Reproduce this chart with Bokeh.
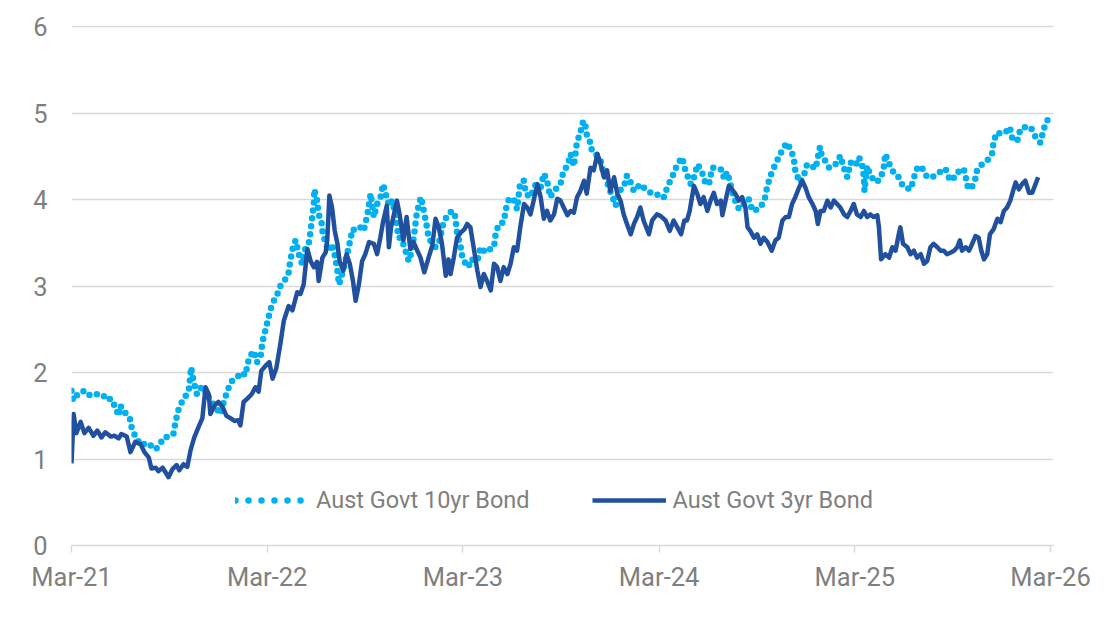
import pandas as pd
from bokeh.plotting import figure
from bokeh.models import Range1d, FixedTicker, Legend, LegendItem, ColumnDataSource
from bokeh.embed import file_html
from bokeh.resources import INLINE

START = "2021-03-01"

# Aust Govt 3yr Bond yield (%), x = days since START
days_3yr = [0, 4, 9, 17, 24, 32, 41, 48, 56, 63, 73, 80, 88, 93, 103, 110, 119, 129, 136, 144,
            149, 157, 162, 170, 175, 181, 188, 196, 201, 209, 216, 222, 229, 239, 244, 250, 256, 259, 267, 274,
            282, 289, 297, 304, 311, 315, 321, 328, 336, 343, 349, 354, 362, 369, 375, 382, 390, 396, 405, 412,
            421, 427, 433, 440, 446, 452, 458, 461, 468, 474, 477, 481, 486, 491, 496, 500, 507, 513, 519, 525,
            530, 536, 542, 548, 555, 564, 570, 576, 581, 588, 592, 596, 601, 607, 612, 619, 625, 632, 638, 645,
            651, 658, 666, 673, 679, 685, 691, 698, 703, 707, 713, 719, 726, 733, 738, 744, 750, 757, 763, 769,
            775, 782, 788, 794, 800, 806, 813, 819, 825, 831, 837, 844, 850, 856, 862, 869, 875, 881, 887, 893,
            900, 906, 912, 918, 925, 931, 937, 943, 949, 956, 961, 968, 974, 981, 987, 993, 999, 1005, 1012, 1018,
            1024, 1030, 1036, 1043, 1049, 1055, 1061, 1067, 1077, 1083, 1092, 1099, 1108, 1116, 1123, 1130, 1137, 1143, 1148, 1153,
            1161, 1167, 1173, 1179, 1186, 1192, 1198, 1204, 1211, 1214, 1220, 1226, 1232, 1238, 1245, 1251, 1257, 1261, 1266, 1273,
            1279, 1285, 1291, 1298, 1306, 1313, 1319, 1326, 1332, 1338, 1344, 1350, 1357, 1363, 1369, 1375, 1382, 1388, 1392, 1397,
            1403, 1410, 1416, 1422, 1428, 1434, 1441, 1447, 1453, 1459, 1465, 1472, 1478, 1484, 1490, 1496, 1503, 1506, 1510, 1518,
            1525, 1531, 1537, 1543, 1546, 1551, 1559, 1565, 1571, 1577, 1584, 1590, 1596, 1602, 1608, 1615, 1621, 1627, 1633, 1640,
            1646, 1652, 1657, 1661, 1668, 1674, 1680, 1686, 1692, 1697, 1702, 1708, 1713, 1720, 1727, 1733, 1739, 1745, 1751, 1758,
            1761, 1767, 1773, 1779, 1786, 1792, 1798, 1803]
yield_3yr = [0.95, 1.52, 1.30, 1.43, 1.30, 1.36, 1.27, 1.33, 1.25, 1.31, 1.26, 1.27, 1.24, 1.29, 1.26, 1.08, 1.20, 1.17, 1.08, 1.02,
             0.89, 0.90, 0.86, 0.90, 0.85, 0.79, 0.88, 0.93, 0.87, 0.94, 0.91, 1.10, 1.25, 1.40, 1.47, 1.83, 1.75, 1.52, 1.62, 1.66,
             1.60, 1.50, 1.47, 1.44, 1.45, 1.39, 1.66, 1.70, 1.75, 1.83, 1.78, 2.02, 2.08, 2.12, 1.93, 2.05, 2.35, 2.60, 2.77, 2.72,
             2.93, 2.91, 3.02, 3.43, 3.29, 3.22, 3.28, 3.06, 3.33, 3.39, 3.53, 4.05, 3.91, 3.64, 3.49, 3.29, 3.18, 3.37, 3.26, 3.06,
             2.83, 3.02, 3.29, 3.37, 3.51, 3.49, 3.37, 3.56, 3.74, 3.93, 3.45, 3.68, 3.82, 3.99, 3.83, 3.53, 3.80, 3.43, 3.51, 3.41,
             3.33, 3.16, 3.33, 3.47, 3.78, 3.68, 3.49, 3.12, 3.31, 3.14, 3.33, 3.56, 3.62, 3.66, 3.72, 3.68, 3.45, 3.18, 2.99, 3.14,
             3.06, 2.95, 3.26, 3.22, 3.06, 3.22, 3.14, 3.26, 3.45, 3.41, 3.68, 3.95, 3.91, 3.83, 3.99, 4.18, 4.03, 3.78, 3.87, 3.76,
             3.83, 4.01, 3.99, 3.91, 3.82, 3.87, 3.85, 4.03, 4.10, 4.22, 4.07, 4.37, 4.34, 4.53, 4.41, 4.26, 4.34, 4.10, 4.26, 4.07,
             3.99, 3.83, 3.72, 3.60, 3.72, 3.80, 3.91, 3.76, 3.60, 3.76, 3.83, 3.81, 3.76, 3.64, 3.76, 3.68, 3.60, 3.76, 3.76, 3.87,
             4.16, 4.07, 3.95, 4.03, 3.87, 3.99, 4.08, 3.95, 3.99, 3.82, 3.99, 4.16, 4.12, 4.07, 3.99, 4.03, 3.91, 3.68, 3.64, 3.56,
             3.60, 3.49, 3.56, 3.51, 3.41, 3.53, 3.56, 3.76, 3.80, 3.80, 3.95, 4.03, 4.14, 4.22, 4.14, 4.03, 3.95, 3.87, 3.72, 3.87,
             3.87, 3.99, 3.91, 3.99, 3.95, 3.91, 3.83, 3.80, 3.87, 3.95, 3.83, 3.80, 3.87, 3.80, 3.83, 3.80, 3.82, 3.68, 3.31, 3.37,
             3.33, 3.45, 3.41, 3.60, 3.68, 3.49, 3.45, 3.37, 3.41, 3.33, 3.37, 3.26, 3.29, 3.45, 3.49, 3.45, 3.41, 3.41, 3.37, 3.39,
             3.41, 3.45, 3.53, 3.41, 3.45, 3.41, 3.49, 3.58, 3.56, 3.41, 3.31, 3.37, 3.60, 3.66, 3.78, 3.74, 3.87, 3.91, 3.99, 4.14,
             4.20, 4.12, 4.18, 4.22, 4.08, 4.08, 4.18, 4.26]

# Aust Govt 10yr Bond yield (%), x = days since START
days_10yr = [0, 3, 14, 26, 35, 45, 57, 67, 73, 82, 88, 91, 98, 104, 110, 113, 119, 129, 141, 151,
             157, 166, 172, 181, 190, 194, 200, 206, 213, 219, 222, 223, 228, 234, 244, 253, 259, 269, 278, 284,
             292, 300, 310, 315, 325, 328, 334, 340, 346, 353, 356, 362, 368, 374, 384, 390, 399, 405, 408, 413,
             418, 424, 430, 436, 443, 446, 449, 452, 453, 458, 461, 466, 468, 474, 480, 486, 492, 496, 499, 503,
             508, 514, 520, 524, 530, 539, 545, 552, 555, 558, 564, 570, 576, 581, 586, 592, 598, 604, 610, 614,
             620, 626, 629, 635, 640, 643, 648, 652, 657, 662, 666, 673, 679, 685, 694, 704, 712, 716, 719, 726,
             729, 735, 741, 744, 757, 763, 772, 781, 788, 791, 797, 806, 811, 816, 825, 831, 837, 844, 847, 856,
             866, 875, 881, 887, 893, 900, 906, 912, 918, 925, 931, 937, 943, 949, 952, 957, 962, 968, 971, 981,
             987, 990, 996, 1002, 1008, 1015, 1021, 1030, 1036, 1043, 1049, 1055, 1061, 1071, 1080, 1089, 1099, 1105, 1111, 1117,
             1123, 1130, 1139, 1145, 1155, 1161, 1168, 1177, 1183, 1189, 1195, 1204, 1214, 1217, 1223, 1229, 1235, 1245, 1251, 1263,
             1270, 1279, 1285, 1293, 1298, 1304, 1310, 1316, 1322, 1330, 1335, 1341, 1347, 1350, 1358, 1366, 1372, 1381, 1388, 1396,
             1400, 1406, 1413, 1422, 1428, 1434, 1441, 1447, 1453, 1462, 1469, 1475, 1478, 1479, 1484, 1490, 1500, 1509, 1515, 1518,
             1524, 1531, 1537, 1543, 1549, 1555, 1565, 1571, 1574, 1580, 1587, 1596, 1605, 1615, 1624, 1630, 1636, 1643, 1649, 1658,
             1664, 1668, 1671, 1677, 1685, 1689, 1695, 1705, 1711, 1717, 1720, 1727, 1733, 1742, 1750, 1755, 1764, 1770, 1779, 1789,
             1795, 1801, 1807, 1812, 1817, 1825, 1829]
yield_10yr = [1.79, 1.68, 1.77, 1.79, 1.73, 1.75, 1.75, 1.68, 1.70, 1.60, 1.50, 1.62, 1.54, 1.52, 1.45, 1.33, 1.27, 1.16, 1.19, 1.14,
              1.11, 1.18, 1.25, 1.26, 1.29, 1.43, 1.58, 1.66, 1.73, 1.81, 1.98, 2.06, 1.89, 1.75, 1.85, 1.75, 1.68, 1.60, 1.52, 1.66,
              1.81, 1.91, 1.95, 2.00, 1.97, 2.10, 2.20, 2.25, 2.12, 2.20, 2.35, 2.50, 2.65, 2.79, 2.91, 3.01, 3.08, 3.16, 3.29, 3.45,
              3.53, 3.37, 3.26, 3.43, 3.51, 3.64, 3.80, 3.95, 4.12, 3.99, 3.83, 3.76, 3.64, 3.49, 3.41, 3.49, 3.33, 3.18, 3.02, 3.10,
              3.22, 3.37, 3.53, 3.66, 3.64, 3.68, 3.64, 3.83, 3.95, 4.07, 3.80, 3.95, 4.01, 4.18, 4.07, 3.93, 3.99, 3.83, 3.56, 3.56,
              3.47, 3.35, 3.29, 3.41, 3.64, 3.80, 3.95, 4.03, 3.87, 3.72, 3.56, 3.49, 3.45, 3.49, 3.74, 3.85, 3.87, 3.80, 3.62, 3.45,
              3.33, 3.26, 3.22, 3.31, 3.29, 3.45, 3.39, 3.43, 3.45, 3.60, 3.72, 3.74, 3.91, 4.01, 4.01, 3.89, 4.20, 4.22, 4.07, 4.03,
              4.18, 4.14, 4.30, 4.22, 4.03, 4.10, 4.14, 4.18, 4.34, 4.39, 4.53, 4.39, 4.68, 4.76, 4.88, 4.91, 4.72, 4.66, 4.55, 4.51,
              4.45, 4.36, 4.28, 4.14, 4.05, 3.93, 4.10, 4.14, 4.28, 4.20, 4.10, 4.14, 4.18, 4.12, 4.08, 4.05, 4.07, 4.03, 4.14, 4.22,
              4.30, 4.41, 4.49, 4.34, 4.18, 4.26, 4.41, 4.30, 4.18, 4.18, 4.37, 4.37, 4.34, 4.24, 4.32, 4.18, 4.03, 3.89, 3.93, 4.01,
              3.87, 3.89, 3.91, 4.01, 4.16, 4.28, 4.37, 4.45, 4.53, 4.62, 4.66, 4.58, 4.49, 4.34, 4.20, 4.28, 4.41, 4.39, 4.36, 4.61,
              4.49, 4.45, 4.37, 4.39, 4.43, 4.51, 4.36, 4.26, 4.43, 4.39, 4.49, 4.39, 4.26, 4.10, 4.39, 4.28, 4.20, 4.24, 4.37, 4.53,
              4.43, 4.34, 4.28, 4.26, 4.18, 4.14, 4.12, 4.24, 4.32, 4.39, 4.36, 4.26, 4.26, 4.30, 4.34, 4.36, 4.26, 4.22, 4.30, 4.34,
              4.36, 4.26, 4.16, 4.12, 4.22, 4.34, 4.39, 4.45, 4.47, 4.53, 4.68, 4.78, 4.76, 4.78, 4.84, 4.70, 4.68, 4.82, 4.84, 4.84,
              4.76, 4.70, 4.66, 4.78, 4.89, 4.96, 4.98]

series_names = ["Aust Govt 10yr Bond", "Aust Govt 3yr Bond"]
tick_dates = ["2021-03-01", "2022-03-01", "2023-03-01", "2024-03-01", "2025-03-01", "2026-03-01"]
tick_labels = ["Mar-21", "Mar-22", "Mar-23", "Mar-24", "Mar-25", "Mar-26"]
y_ticks = [0, 1, 2, 3, 4, 5, 6]

C10 = "#00B0F0"
C3 = "#21509F"
GRID = "#D9D9D9"
TXT = "#7F7F7F"
FONT = "Roboto"

start = pd.Timestamp(START)
src10 = ColumnDataSource(dict(x=start + pd.to_timedelta(days_10yr, unit="D"), y=yield_10yr))
src3 = ColumnDataSource(dict(x=start + pd.to_timedelta(days_3yr, unit="D"), y=yield_3yr))

x_end = start + pd.Timedelta(days=1831.6)

p = figure(width=1096, height=627, x_axis_type="datetime",
           x_range=Range1d(start, x_end), y_range=Range1d(0, 6.05),
           output_backend="svg", toolbar_location=None,
           min_border_left=71, min_border_right=43, min_border_top=22, min_border_bottom=82)
p.outline_line_color = None
p.background_fill_color = "white"
# off-screen range used only by the legend proxy renderer
p.extra_y_ranges = {"legend_proxy": Range1d(-20, -19)}

r10 = p.line("x", "y", source=src10, line_color=C10, line_width=6.5,
             line_dash="0 8", line_cap="round", line_join="round")
r3 = p.line("x", "y", source=src3, line_color=C3, line_width=4.5, line_join="round")

# legend-only proxy for the dotted line (wider dot spacing, as in the reference legend)
leg10 = p.line("x", "y", source=src10, y_range_name="legend_proxy",
               line_color=C10, line_width=6.5, line_dash="0 13", line_cap="round")

tick_ms = [float(pd.Timestamp(d).timestamp() * 1000) for d in tick_dates]
overrides = {}
for ms, lab in zip(tick_ms, tick_labels):
    overrides[ms] = lab
    overrides[str(int(ms))] = lab

xa = p.xaxis[0]
xa.ticker = FixedTicker(ticks=tick_ms)
xa.major_label_overrides = overrides
xa.axis_line_color = GRID
xa.axis_line_width = 1.5
xa.major_tick_line_color = GRID
xa.major_tick_line_width = 1.5
xa.major_tick_out = 7
xa.major_tick_in = 0
xa.minor_tick_line_color = None
xa.major_label_text_font = FONT
xa.major_label_text_font_size = "25.5px"
xa.major_label_text_color = TXT
xa.major_label_standoff = 9

ya = p.yaxis[0]
ya.ticker = FixedTicker(ticks=y_ticks)
ya.axis_line_color = None
ya.major_tick_line_color = None
ya.minor_tick_line_color = None
ya.major_tick_out = 0
ya.major_tick_in = 0
ya.major_label_text_font = FONT
ya.major_label_text_font_size = "25.5px"
ya.major_label_text_color = TXT
ya.major_label_standoff = 24

p.xgrid.grid_line_color = None
p.ygrid.grid_line_color = GRID
p.ygrid.grid_line_width = 1.5
p.ygrid.ticker = FixedTicker(ticks=y_ticks[1:])

legend = Legend(items=[LegendItem(label=series_names[0], renderers=[leg10]),
                       LegendItem(label=series_names[1], renderers=[r3])],
                orientation="horizontal", location=(164, 31),
                glyph_width=74, glyph_height=20, label_standoff=7, spacing=62,
                padding=0, margin=0, border_line_color=None, background_fill_alpha=0,
                label_text_font=FONT, label_text_font_size="23.5px", label_text_color=TXT)
p.add_layout(legend)

open("out.html", "w").write(file_html(p, INLINE))
